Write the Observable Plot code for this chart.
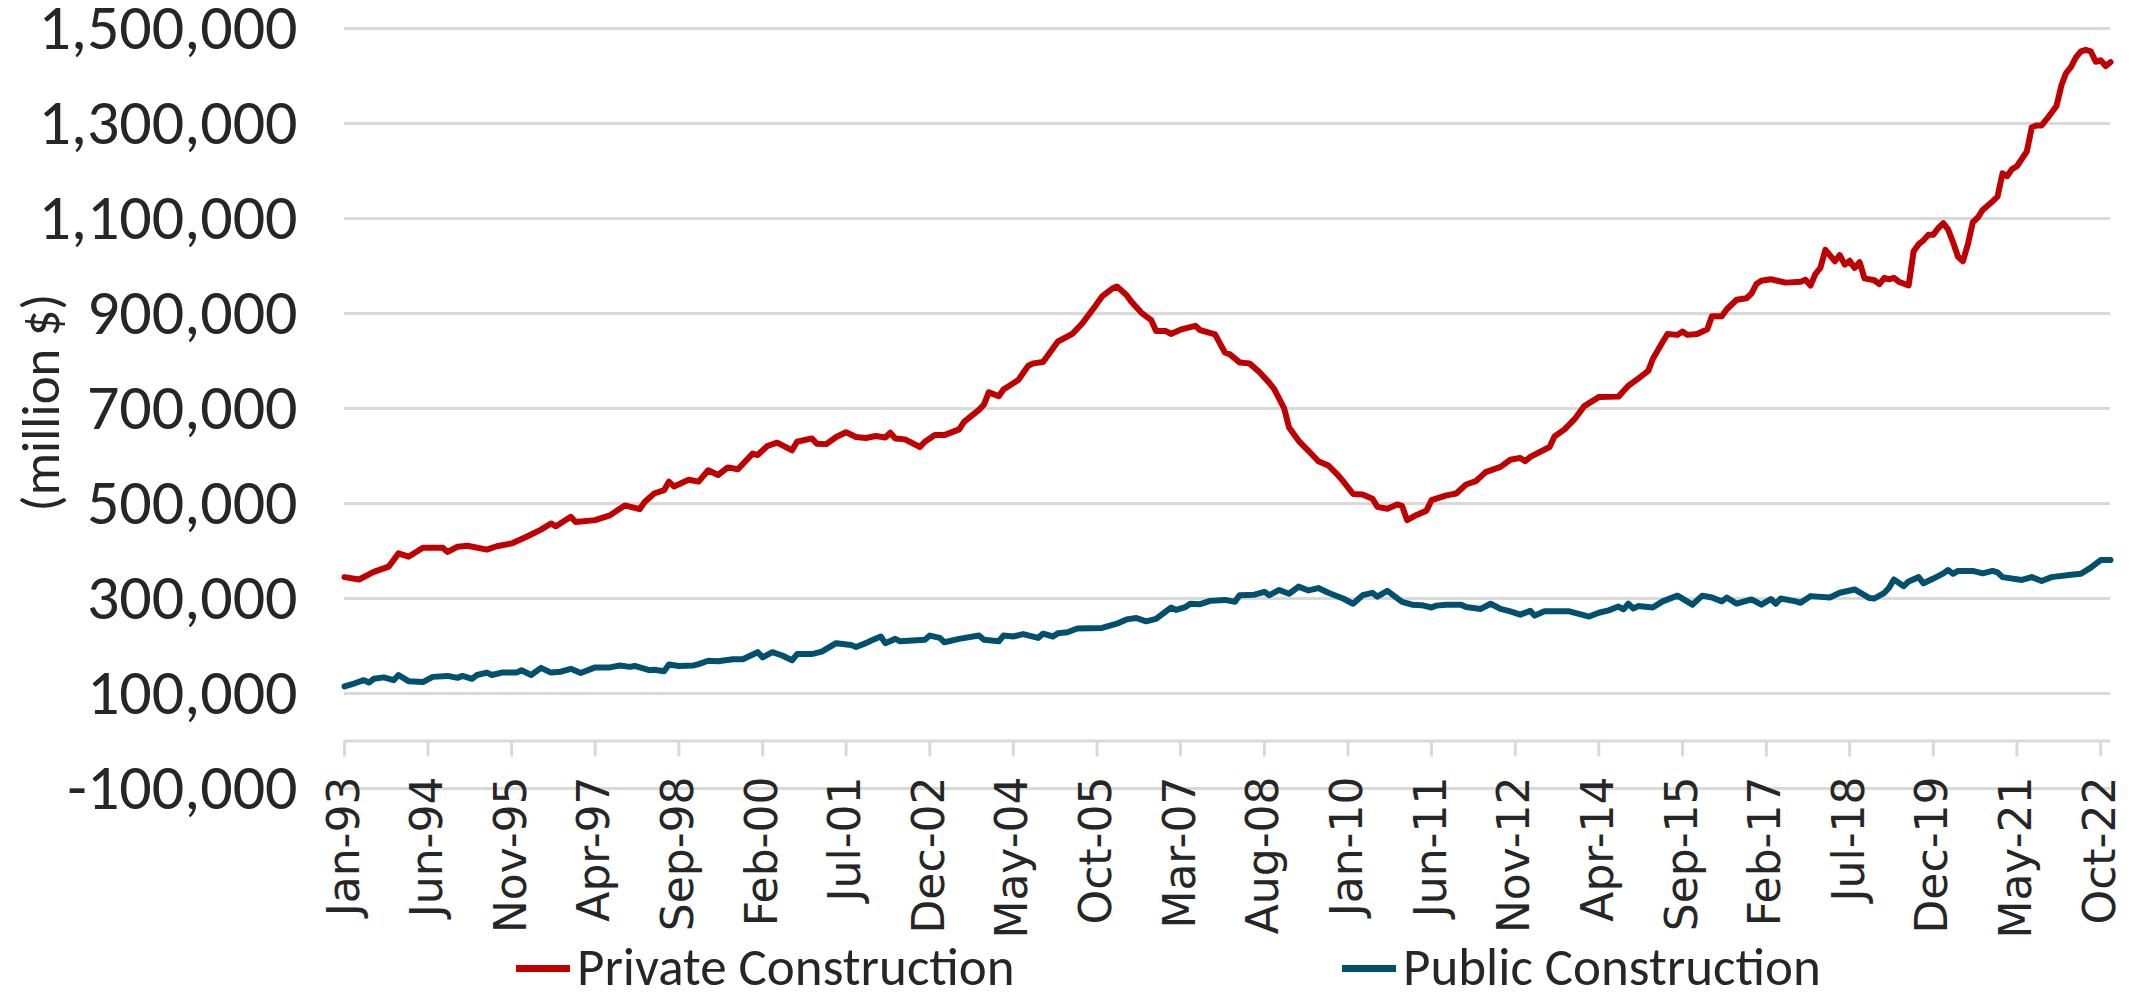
<!DOCTYPE html>
<html>
<head>
<meta charset="utf-8">
<script src="https://cdn.jsdelivr.net/npm/d3@7"></script>
<script src="https://cdn.jsdelivr.net/npm/@observablehq/plot@0.6"></script>
<style>
html, body { margin: 0; padding: 0; background: #fff; }
#wrap { position: relative; width: 2139px; height: 1000px; overflow: hidden; background: #fff; }
#legend { position: absolute; left: 0; top: 942px; width: 2139px; height: 50px; font-family: Carlito, Lato, sans-serif; font-size: 53px; line-height: 50px; color: #262626; }
.item { position: absolute; top: 0; height: 50px; display: flex; align-items: center; white-space: nowrap; }
.sw { width: 54px; height: 7px; margin-right: 7px; margin-top: 2px; }
</style>
</head>
<body>
<div id="wrap">
  <div id="chart"></div>
  <div id="legend"></div>
</div>
<script>
// ---- Data (million $) ----
const seriesNames = ["Private Construction", "Public Construction"];
const seriesColors = ["#C00000", "#00506E"];

const privateDates = ["1993-01","1993-04","1993-07","1993-10","1993-12","1994-02","1994-05","1994-09","1994-10","1994-12","1995-02","1995-06","1995-08","1995-11","1996-02","1996-05","1996-07","1996-08","1996-11","1996-12","1997-04","1997-07","1997-10","1998-01","1998-02","1998-04","1998-06","1998-07","1998-08","1998-11","1999-01","1999-03","1999-05","1999-07","1999-09","1999-12","2000-01","2000-03","2000-05","2000-08","2000-09","2000-12","2001-01","2001-03","2001-05","2001-07","2001-09","2001-11","2002-01","2002-03","2002-04","2002-05","2002-07","2002-10","2002-11","2003-01","2003-03","2003-06","2003-07","2003-10","2003-11","2003-12","2004-02","2004-03","2004-06","2004-08","2004-09","2004-11","2004-12","2005-02","2005-05","2005-07","2005-09","2005-11","2006-01","2006-02","2006-04","2006-05","2006-07","2006-09","2006-10","2006-12","2007-01","2007-03","2007-06","2007-07","2007-10","2007-12","2008-01","2008-03","2008-05","2008-07","2008-09","2008-10","2008-12","2009-01","2009-03","2009-05","2009-07","2009-09","2009-11","2009-12","2010-02","2010-04","2010-06","2010-07","2010-09","2010-11","2010-12","2011-01","2011-03","2011-05","2011-06","2011-09","2011-11","2012-01","2012-03","2012-05","2012-08","2012-10","2012-12","2013-01","2013-02","2013-06","2013-07","2013-09","2013-11","2014-01","2014-04","2014-08","2014-10","2014-12","2015-02","2015-03","2015-05","2015-06","2015-08","2015-09","2015-10","2015-12","2016-02","2016-03","2016-05","2016-06","2016-08","2016-10","2016-11","2016-12","2017-01","2017-03","2017-06","2017-09","2017-10","2017-11","2017-12","2018-01","2018-02","2018-04","2018-05","2018-06","2018-07","2018-08","2018-09","2018-10","2018-12","2019-01","2019-02","2019-03","2019-04","2019-05","2019-07","2019-08","2019-09","2019-10","2019-11","2019-12","2020-01","2020-02","2020-03","2020-04","2020-05","2020-06","2020-07","2020-08","2020-09","2020-10","2020-12","2021-01","2021-02","2021-03","2021-04","2021-05","2021-07","2021-08","2021-09","2021-10","2021-11","2022-01","2022-02","2022-03","2022-04","2022-05","2022-06","2022-07","2022-08","2022-09","2022-10","2022-11","2022-12"];
const privateValues = [345000,340000,356000,367000,395000,388000,407000,407000,398000,409000,411000,403000,410000,416000,430000,445000,458000,452000,472000,461000,465000,475000,496000,488000,503000,521000,528000,546000,536000,550000,546000,570000,560000,576000,572000,605000,602000,621000,628000,612000,630000,637000,626000,625000,640000,650000,640000,638000,642000,639000,649000,637000,635000,619000,630000,644000,644000,656000,672000,697000,708000,734000,726000,740000,760000,790000,795000,798000,812000,841000,857000,879000,907000,936000,952000,957000,939000,925000,902000,886000,863000,863000,857000,866000,874000,865000,856000,818000,814000,797000,795000,777000,754000,741000,701000,660000,632000,611000,589000,580000,559000,547000,520000,519000,510000,493000,489000,498000,495000,465000,476000,485000,507000,517000,521000,540000,547000,566000,577000,592000,596000,589000,598000,619000,641000,656000,677000,705000,724000,725000,748000,763000,779000,804000,840000,857000,855000,862000,855000,857000,867000,894000,894000,909000,929000,932000,942000,962000,969000,972000,965000,967000,971000,959000,983000,996000,1034000,1010000,1023000,1003000,1011000,996000,1008000,974000,970000,962000,975000,972000,975000,967000,959000,1031000,1046000,1054000,1066000,1066000,1080000,1090000,1077000,1050000,1020000,1010000,1045000,1092000,1102000,1118000,1136000,1146000,1195000,1189000,1204000,1210000,1241000,1292000,1296000,1296000,1309000,1337000,1381000,1406000,1419000,1439000,1452000,1455000,1452000,1430000,1433000,1421000,1429000];

const publicDates = ["1993-01","1993-03","1993-05","1993-06","1993-07","1993-09","1993-11","1993-12","1994-02","1994-05","1994-07","1994-10","1994-12","1995-01","1995-03","1995-04","1995-06","1995-07","1995-09","1995-12","1996-01","1996-03","1996-05","1996-07","1996-09","1996-11","1997-01","1997-04","1997-07","1997-09","1997-11","1997-12","1998-03","1998-04","1998-06","1998-07","1998-09","1998-12","1999-01","1999-03","1999-05","1999-08","1999-10","2000-01","2000-02","2000-04","2000-06","2000-08","2000-09","2000-12","2001-02","2001-05","2001-08","2001-09","2001-11","2001-12","2002-02","2002-03","2002-05","2002-06","2002-11","2002-12","2003-02","2003-03","2003-06","2003-10","2003-11","2004-02","2004-03","2004-05","2004-07","2004-10","2004-11","2005-01","2005-02","2005-04","2005-06","2005-11","2006-02","2006-04","2006-06","2006-08","2006-10","2007-01","2007-02","2007-04","2007-05","2007-07","2007-09","2007-12","2008-02","2008-03","2008-06","2008-08","2008-09","2008-11","2009-01","2009-03","2009-05","2009-07","2009-09","2009-12","2010-02","2010-04","2010-06","2010-07","2010-09","2010-12","2011-02","2011-04","2011-06","2011-07","2011-09","2011-12","2012-01","2012-04","2012-06","2012-08","2012-10","2012-12","2013-02","2013-03","2013-05","2013-10","2014-02","2014-04","2014-06","2014-08","2014-09","2014-10","2014-11","2014-12","2015-03","2015-05","2015-08","2015-11","2016-01","2016-03","2016-05","2016-06","2016-08","2016-11","2017-01","2017-03","2017-04","2017-05","2017-08","2017-09","2017-11","2018-03","2018-05","2018-08","2018-11","2018-12","2019-02","2019-03","2019-04","2019-06","2019-07","2019-09","2019-10","2019-12","2020-02","2020-03","2020-04","2020-05","2020-08","2020-10","2020-12","2021-01","2021-02","2021-06","2021-08","2021-10","2021-12","2022-04","2022-06","2022-08","2022-10","2022-12"];
const publicValues = [115000,121000,128000,123000,131000,134000,128000,139000,126000,124000,135000,137000,133000,137000,131000,139000,144000,139000,144000,144000,149000,139000,154000,144000,146000,152000,143000,155000,155000,159000,156000,158000,149000,150000,147000,161000,158000,159000,162000,169000,168000,172000,172000,187000,176000,187000,180000,170000,183000,183000,188000,206000,202000,198000,206000,211000,220000,206000,215000,210000,213000,222000,217000,208000,215000,222000,213000,210000,222000,220000,225000,217000,226000,220000,227000,229000,237000,238000,247000,256000,259000,252000,257000,281000,276000,282000,289000,288000,295000,297000,293000,307000,308000,314000,307000,318000,310000,325000,317000,322000,312000,300000,289000,307000,312000,304000,316000,293000,287000,286000,281000,285000,287000,287000,282000,278000,289000,278000,273000,266000,274000,264000,273000,273000,262000,270000,275000,283000,277000,289000,279000,284000,281000,294000,306000,287000,306000,302000,294000,302000,289000,298000,287000,299000,289000,300000,294000,291000,305000,302000,312000,319000,301000,300000,312000,322000,340000,326000,336000,345000,332000,342000,353000,360000,352000,358000,358000,353000,358000,355000,345000,339000,345000,337000,345000,350000,352000,365000,381000,381000];

const xTickLabels = ["Jan-93","Jun-94","Nov-95","Apr-97","Sep-98","Feb-00","Jul-01","Dec-02","May-04","Oct-05","Mar-07","Aug-08","Jan-10","Jun-11","Nov-12","Apr-14","Sep-15","Feb-17","Jul-18","Dec-19","May-21","Oct-22"];
const yTicks = [-100000, 100000, 300000, 500000, 700000, 900000, 1100000, 1300000, 1500000];
const yTitle = "(million $)";

// ---- Build tables ----
const parseYM = d3.utcParse("%Y-%m");
const parseTick = d3.utcParse("%b-%y");
const privateData = privateDates.map((d, i) => ({date: parseYM(d), value: privateValues[i]}));
const publicData = publicDates.map((d, i) => ({date: parseYM(d), value: publicValues[i]}));
const xTicks = xTickLabels.map((t) => ({date: parseTick(t), label: t}));
const fmtY = d => d3.format(",")(d).replace("\u2212", "-");

const grid = "#d9d9d9";
const textColor = "#262626";
const calibriLike = "Carlito, Lato, sans-serif";

const chart = Plot.plot({
  width: 2139,
  height: 945,
  marginLeft: 344,
  marginRight: 29,
  marginTop: 28,
  marginBottom: 157,
  x: {type: "utc", domain: [parseYM("1993-01"), parseYM("2022-12")]},
  y: {domain: [-100000, 1500000]},
  style: {background: "white", overflow: "visible"},
  marks: [
    Plot.ruleY(yTicks, {stroke: grid, strokeWidth: 3}),
    Plot.ruleY([0], {stroke: grid, strokeWidth: 3}),
    Plot.axisY(yTicks, {
      tickSize: 0, tickPadding: 47, tickFormat: fmtY, label: null,
      fontSize: 64, fontFamily: calibriLike, fill: textColor
    }),
    Plot.axisX(xTicks.map(d => d.date), {
      dy: -47.5, tickSize: 16, tickFormat: () => "", label: null,
      stroke: grid, strokeWidth: 3
    }),
    Plot.text(xTicks, {
      x: "date", text: "label", frameAnchor: "bottom", dy: -12,
      rotate: -90, textAnchor: "end", lineAnchor: "middle",
      fontSize: 44, fontFamily: "DejaVu Sans", fill: textColor
    }),
    Plot.text([yTitle], {
      frameAnchor: "left", textAnchor: "middle", dx: -302, dy: -6, rotate: -90,
      fontSize: 53, fontFamily: calibriLike, fill: textColor
    }),
    Plot.line(publicData, {x: "date", y: "value", stroke: seriesColors[1], strokeWidth: 6}),
    Plot.line(privateData, {x: "date", y: "value", stroke: seriesColors[0], strokeWidth: 6})
  ]
});
document.getElementById("chart").appendChild(chart);

// ---- Legend (HTML, below the SVG) ----
const legend = document.getElementById("legend");
const legendLeft = [516, 1342];
seriesNames.forEach((name, i) => {
  const item = document.createElement("div");
  item.className = "item";
  item.style.left = legendLeft[i] + "px";
  const sw = document.createElement("div");
  sw.className = "sw";
  sw.style.background = seriesColors[i];
  const label = document.createElement("span");
  label.textContent = name;
  item.appendChild(sw);
  item.appendChild(label);
  legend.appendChild(item);
});
</script>
</body>
</html>
